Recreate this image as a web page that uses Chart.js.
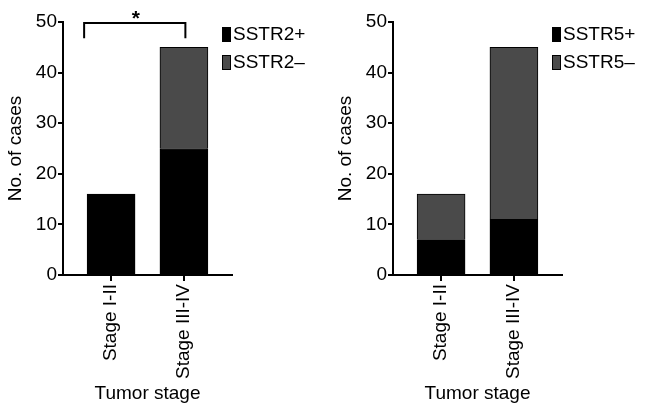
<!DOCTYPE html>
<html>
<head>
<meta charset="utf-8">
<script src="https://cdn.jsdelivr.net/npm/chart.js@4.4.1/dist/chart.umd.min.js"></script>
<style>
  html, body { margin: 0; padding: 0; background: #fff; overflow: hidden; }
  .panel { position: absolute; top: 0; }
</style>
</head>
<body>
<div class="panel" style="left:0"><canvas id="chartSSTR2" width="330" height="413"></canvas></div>
<div class="panel" style="left:330px"><canvas id="chartSSTR5" width="316" height="413"></canvas></div>
<script>
const stages = ['Stage I-II', 'Stage III-IV'];
const sstr2Pos = [16, 25];
const sstr2Neg = [0, 20];
const sstr5Pos = [7, 11];
const sstr5Neg = [9, 34];
const yTicks = [0, 10, 20, 30, 40, 50];

const FONT = '"Liberation Sans", Arial, Helvetica, sans-serif';
const BLACK = '#000000';
const GREY = '#4a4a4a';

Chart.defaults.font.family = FONT;
Chart.defaults.font.size = 19;
Chart.defaults.color = BLACK;

// legend drawn by hand: tall narrow boxes, text close to the box
const legendBoxes = {
  id: 'legendBoxes',
  afterDraw(chart) {
    const { ctx, chartArea } = chart;
    ctx.save();
    ctx.font = '19px ' + FONT;
    ctx.textBaseline = 'middle';
    chart.data.datasets.forEach((ds, i) => {
      const x = chartArea.right - 10;
      const y = chartArea.top + 5 + i * 28;
      ctx.fillStyle = ds.backgroundColor;
      ctx.fillRect(x, y, 9, 15);
      ctx.strokeStyle = BLACK;
      ctx.lineWidth = 1;
      ctx.strokeRect(x + 0.5, y + 0.5, 8, 14);
      ctx.fillStyle = BLACK;
      ctx.fillText(ds.label, x + 11, y + 8);
    });
    ctx.restore();
  }
};

// significance bracket between the two stages
const bracket = {
  id: 'bracket',
  afterDraw(chart) {
    const { ctx, scales } = chart;
    const x0 = scales.x.getPixelForValue(-0.37);
    const x1 = scales.x.getPixelForValue(1.02);
    const yTop = scales.y.getPixelForValue(49.8);
    const yBot = scales.y.getPixelForValue(46.8);
    ctx.save();
    ctx.strokeStyle = BLACK;
    ctx.lineWidth = 2;
    ctx.beginPath();
    ctx.moveTo(x0, yBot);
    ctx.lineTo(x0, yTop);
    ctx.lineTo(x1, yTop);
    ctx.lineTo(x1, yBot);
    ctx.stroke();
    ctx.fillStyle = BLACK;
    ctx.font = 'bold 21px ' + FONT;
    ctx.textAlign = 'center';
    ctx.textBaseline = 'alphabetic';
    ctx.fillText('*', (x0 + x1) / 2 + 1, yTop + 2);
    ctx.restore();
  }
};

function makeChart(id, posLabel, negLabel, pos, neg, rightPad, extra) {
  // linear x so the bar centres can sit where the original figure puts them
  const toPoints = arr => arr.map((v, i) => ({ x: i, y: v }));
  return new Chart(document.getElementById(id), {
    type: 'bar',
    data: {
      datasets: [
        { label: posLabel, data: toPoints(pos), backgroundColor: BLACK, borderColor: BLACK, borderWidth: 1, barThickness: 48, grouped: false },
        { label: negLabel, data: toPoints(neg), backgroundColor: GREY, borderColor: BLACK, borderWidth: 1, barThickness: 48, grouped: false }
      ]
    },
    options: {
      responsive: false,
      animation: false,
      devicePixelRatio: 1,
      layout: { padding: { top: 22, right: rightPad, bottom: 0, left: 0 } },
      plugins: { legend: { display: false }, tooltip: { enabled: false } },
      scales: {
        x: {
          type: 'linear',
          offset: false,
          min: -0.66,
          max: 1.66,
          afterBuildTicks: s => { s.ticks = stages.map((_, i) => ({ value: i })); },
          afterFit: s => { s.height = 138; },
          ticks: {
            autoSkip: false,
            minRotation: 90,
            maxRotation: 90,
            padding: 3,
            callback: v => stages[v]
          },
          grid: { offset: false, drawOnChartArea: false, color: BLACK, lineWidth: 2, tickLength: 6 },
          border: { color: BLACK, width: 2 },
          title: { display: true, text: 'Tumor stage', padding: { top: 4, bottom: 8 } }
        },
        y: {
          stacked: true,
          min: 0,
          max: 50,
          afterBuildTicks: s => { s.ticks = yTicks.map(v => ({ value: v })); },
          afterFit: s => { s.width = 63; },
          ticks: { padding: 1 },
          grid: { drawOnChartArea: false, color: BLACK, lineWidth: 2, tickLength: 5 },
          border: { color: BLACK, width: 2 },
          title: { display: true, text: 'No. of cases', padding: { top: 4, bottom: 4 } }
        }
      }
    },
    plugins: [legendBoxes].concat(extra)
  });
}

makeChart('chartSSTR2', 'SSTR2+', 'SSTR2–', sstr2Pos, sstr2Neg, 98, [bracket]);
makeChart('chartSSTR5', 'SSTR5+', 'SSTR5–', sstr5Pos, sstr5Neg, 84, []);
</script>
</body>
</html>
